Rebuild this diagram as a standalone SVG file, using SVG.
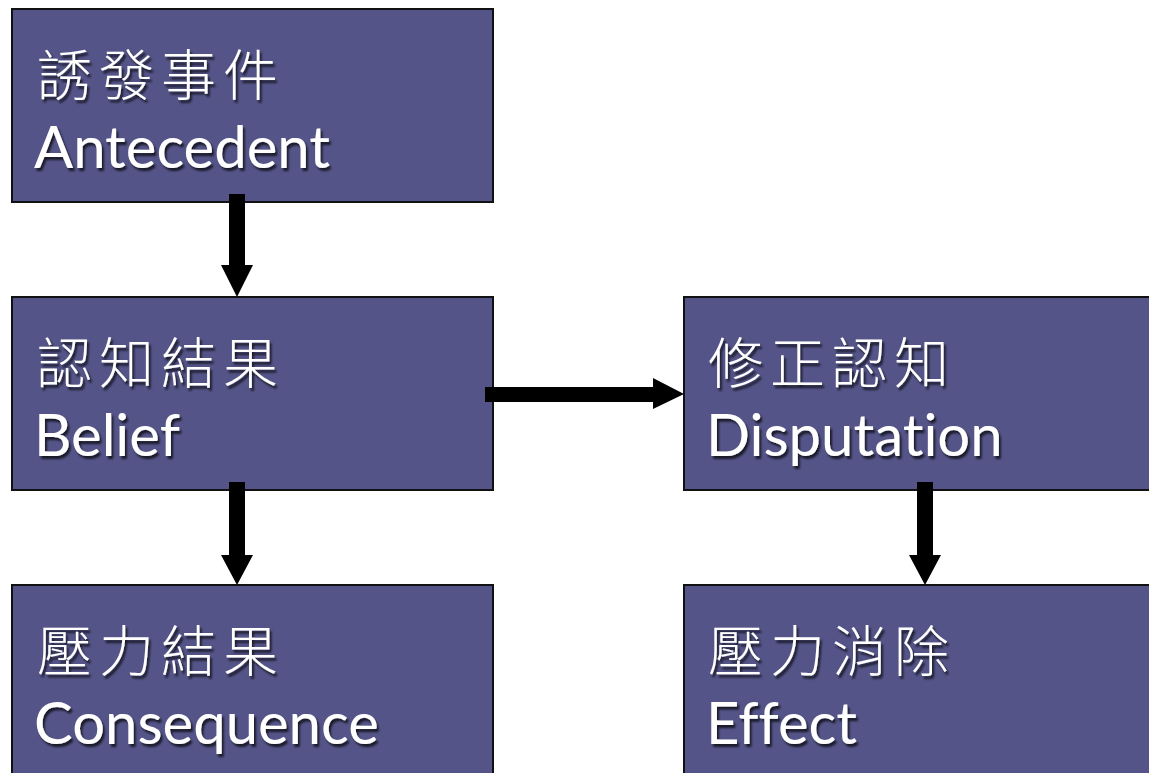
<svg xmlns="http://www.w3.org/2000/svg" width="1149" height="773" viewBox="0 0 1149 773">
<defs>
<filter id="sh" x="-10%" y="-10%" width="130%" height="140%">
<feDropShadow dx="2" dy="3" stdDeviation="1.2" flood-color="#000" flood-opacity="0.7"/>
</filter>
</defs>
<style>
.box{fill:#545488;stroke:#111;stroke-width:2}
.cjk{font-family:"Noto Sans CJK TC","Noto Sans CJK SC",sans-serif;font-size:55px;fill:#fff;letter-spacing:7px;font-weight:300}
.lat{font-family:Lato,"Open Sans",sans-serif;font-size:58px;fill:#fff;font-variant-ligatures:none}
.arr{fill:#000}
</style>
<rect width="1149" height="773" fill="#fff"/>
<g id="antecedent">
<rect class="box" x="12" y="9" width="481" height="193"/>
<g filter="url(#sh)"><text class="cjk" x="37" y="95">誘發事件</text>
<text class="lat" x="34" y="168">Antecedent</text></g>
</g>
<g id="belief">
<rect class="box" x="12" y="297" width="481" height="193"/>
<g filter="url(#sh)"><text class="cjk" x="37" y="383">認知結果</text>
<text class="lat" x="34" y="456">Belief</text></g>
</g>
<g id="consequence">
<rect class="box" x="12" y="585" width="481" height="200"/>
<g filter="url(#sh)"><text class="cjk" x="37" y="671">壓力結果</text>
<text class="lat" x="34" y="744">Consequence</text></g>
</g>
<g id="disputation">
<rect class="box" x="684" y="297" width="480" height="193"/>
<g filter="url(#sh)"><text class="cjk" x="708" y="383">修正認知</text>
<text class="lat" x="706" y="456">Disputation</text></g>
</g>
<g id="effect">
<rect class="box" x="684" y="585" width="480" height="200"/>
<g filter="url(#sh)"><text class="cjk" x="708" y="671">壓力消除</text>
<text class="lat" x="706" y="744">Effect</text></g>
</g>
<g id="connectors">
<polygon class="arr" points="229,194 245,194 245,265 253,265 237,297 221,265 229,265"/>
<polygon class="arr" points="229,482 245,482 245,555 253,555 237,585 221,555 229,555"/>
<polygon class="arr" points="917,482 933,482 933,555 941,555 925,585 909,555 917,555"/>
<polygon class="arr" points="485,387 653,387 653,378 684,394 653,409 653,402 485,402"/>
</g>
</svg>
